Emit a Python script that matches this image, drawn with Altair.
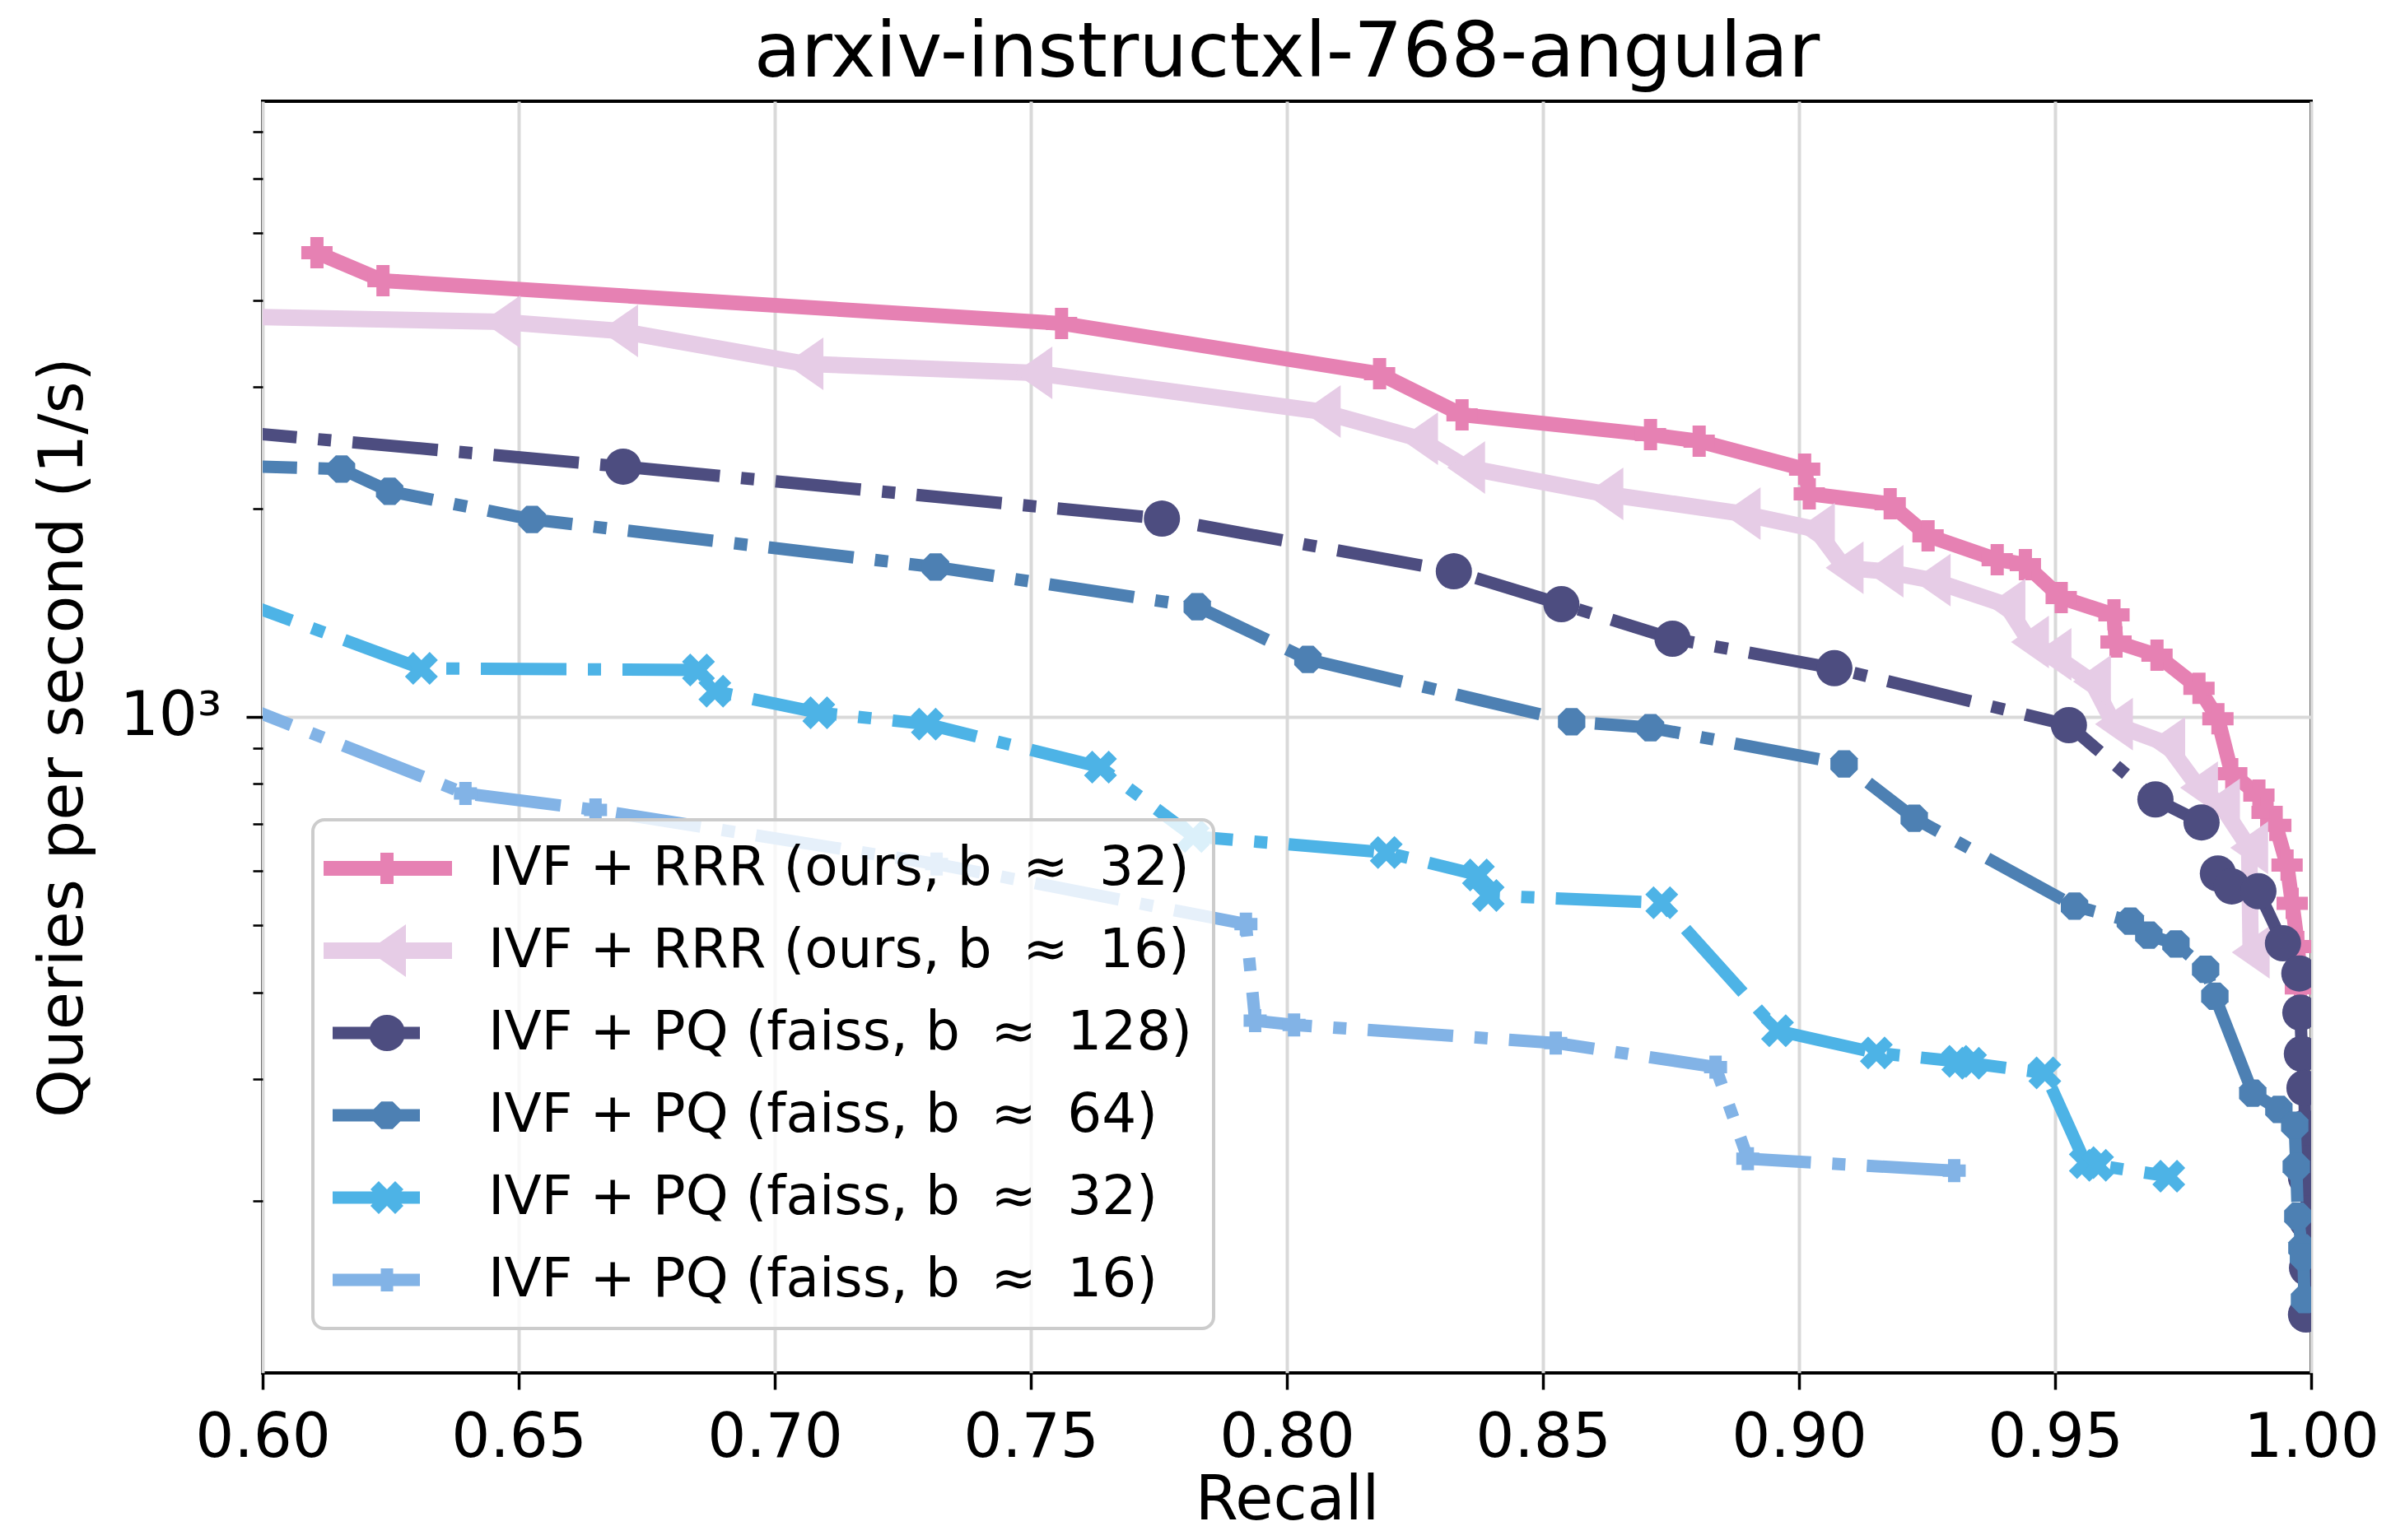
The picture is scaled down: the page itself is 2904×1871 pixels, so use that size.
import math
import altair as alt
import pandas as pd

# ---------------- data ----------------
series_names = [
    "IVF + RRR (ours, b \u2005\u2248\u2005 32)",
    "IVF + RRR (ours, b \u2005\u2248\u2005 16)",
    "IVF + PQ (faiss, b \u2005\u2248\u2005 128)",
    "IVF + PQ (faiss, b \u2005\u2248\u2005 64)",
    "IVF + PQ (faiss, b \u2005\u2248\u2005 32)",
    "IVF + PQ (faiss, b \u2005\u2248\u2005 16)",
]

rrr32_recall = [0.6106, 0.6235, 0.7560, 0.8181, 0.8342, 0.8710, 0.8805, 0.9011, 0.9020,
                0.9178, 0.9252, 0.9387, 0.9442, 0.9512, 0.9615, 0.9619, 0.9699, 0.9781,
                0.9818, 0.9845, 0.9898, 0.9914, 0.9931, 0.9953, 0.9963, 0.9974, 0.9979]
rrr32_qps = [4684, 4268, 3702, 3132, 2732, 2557, 2502, 2280, 2100,
             2032, 1826, 1687, 1660, 1487, 1404, 1283, 1228, 1100,
             994, 828, 771, 728, 697, 611, 538, 466, 406]

rrr16_recall = [0.5900, 0.6466, 0.6696, 0.7058, 0.7505, 0.8068, 0.8258, 0.8350, 0.8620,
                0.8888, 0.9033, 0.9089, 0.9167, 0.9259, 0.9405, 0.9451, 0.9495, 0.9572,
                0.9615, 0.9717, 0.9781, 0.9824, 0.9879, 0.9882]
rrr16_qps = [3793, 3721, 3612, 3237, 3141, 2761, 2523, 2293, 2100,
             1967, 1867, 1642, 1623, 1576, 1451, 1283, 1231, 1125,
             976, 916, 790, 746, 647, 457]

pq128_recall = [0.5900, 0.6704, 0.7756, 0.8326, 0.8536, 0.8753, 0.9069, 0.9527, 0.9696,
                0.9786, 0.9818, 0.9845, 0.9897, 0.9945, 0.9977, 0.9979, 0.9982, 0.9987,
                0.9988, 0.9990, 0.9992, 0.9992, 0.9990]
pq128_qps = [2600, 2299, 1934, 1623, 1455, 1297, 1176, 973, 760,
             704, 594, 569, 560, 471, 426, 374, 326, 291,
             255, 216, 187, 160, 137]

pq64_recall = [0.5900, 0.6154, 0.6248, 0.6526, 0.7314, 0.7825, 0.8041, 0.8556, 0.8710,
               0.9088, 0.9225, 0.9538, 0.9647, 0.9683, 0.9736, 0.9794, 0.9812, 0.9886,
               0.9937, 0.9968, 0.9971, 0.9974, 0.9982, 0.9985, 0.9987]
pq64_qps = [2312, 2280, 2118, 1929, 1646, 1443, 1211, 984, 965,
            855, 714, 533, 507, 484, 470, 432, 395, 286,
            271, 257, 224, 190, 171, 166, 144]

pq32_recall = [0.5900, 0.6310, 0.6851, 0.6883, 0.7086, 0.7298, 0.7636, 0.7817, 0.8194,
               0.8374, 0.8393, 0.8732, 0.8958, 0.9151, 0.9310, 0.9335, 0.9480, 0.9559,
               0.9583, 0.9722]
pq32_qps = [1520, 1175, 1169, 1089, 1014, 976, 846, 672, 637,
            591, 552, 539, 352, 327, 318, 316, 306, 227,
            225, 217]

pq16_recall = [0.5900, 0.6396, 0.6650, 0.7316, 0.7920, 0.7938, 0.8014, 0.8525, 0.8837,
               0.8900, 0.9303]
pq16_qps = [1080, 775, 734, 613, 502, 364, 359, 338, 312, 230, 221]

x_ticks = [0.60, 0.65, 0.70, 0.75, 0.80, 0.85, 0.90, 0.95, 1.00]
y_ticks = [200, 300, 400, 500, 600, 700, 800, 900, 1000,
           2000, 3000, 4000, 5000, 6000, 7000]

all_recall = [rrr32_recall, rrr16_recall, pq128_recall, pq64_recall, pq32_recall, pq16_recall]
all_qps = [rrr32_qps, rrr16_qps, pq128_qps, pq64_qps, pq32_qps, pq16_qps]

rows = []
for name, rs, qs in zip(series_names, all_recall, all_qps):
    for j, (r, q) in enumerate(zip(rs, qs)):
        rows.append({"series": name, "recall": r, "qps": q, "order": j})
df = pd.DataFrame(rows)

# ---------------- styles ----------------
FONT = "DejaVu Sans"
colors = ["#e681b3", "#e6cce6", "#4d4d80", "#4d80b3", "#4db3e6", "#82b3e6"]
DASHDOT = [104, 26, 16, 26]
widths = [18, 20, 15, 15, 15, 15]
dashes = [None, None, DASHDOT, DASHDOT, DASHDOT, DASHDOT]


def orient(pts):
    a = 0.0
    for i in range(len(pts)):
        x1, y1 = pts[i]
        x2, y2 = pts[(i + 1) % len(pts)]
        a += x1 * y2 - x2 * y1
    return pts if a > 0 else pts[::-1]


def plus_pts(a, b):
    return [(-b, -a), (b, -a), (b, -b), (a, -b), (a, b), (b, b), (b, a), (-b, a),
            (-b, b), (-a, b), (-a, -b), (-b, -b)]


def tri_left_pts(w, h):
    return [(-w, 0), (w, -h), (w, h)]


def circle_pts(r, n=36):
    return [(r * math.cos(2 * math.pi * k / n), r * math.sin(2 * math.pi * k / n)) for k in range(n)]


def octagon_pts(r):
    return [(r * math.cos(math.radians(22.5 + 45 * k)), r * math.sin(math.radians(22.5 + 45 * k)))
            for k in range(8)]


def x_pts(ext):
    base = [(-1, -2), (0, -1), (1, -2), (2, -1), (1, 0), (2, 1), (1, 2), (0, 1),
            (-1, 2), (-2, 1), (-1, 0), (-2, -1)]
    return [(x * ext / 4.0, y * ext / 4.0) for x, y in base]


def rect_pts(x0, x1, h):
    return [(x0, -h), (x1, -h), (x1, h), (x0, h)]


def to_path(polys, unit, dx=0.0):
    out = []
    for pts in polys:
        pts = orient(pts)
        seg = "M" + " L".join(f"{(x + dx) / unit:.4f},{y / unit:.4f}" for x, y in pts) + " Z"
        out.append(seg)
    return " ".join(out)


marker_polys = [
    plus_pts(19, 8),
    tri_left_pts(23, 32),
    circle_pts(22),
    octagon_pts(18),
    x_pts(40),
    plus_pts(14, 7.5),
]

PLOT_UNIT = 50.0           # size 10000 -> sqrt/2 = 50 px per unit
PLOT_SIZE = (2 * PLOT_UNIT) ** 2
plot_paths = [to_path([p], PLOT_UNIT) for p in marker_polys]

LEG_UNIT = 33.0            # size 4356 -> 33 px per unit
LEG_SIZE = (2 * LEG_UNIT) ** 2
LEG_DX = 31.0              # marker centre offset from symbol centre
leg_lines = [
    rect_pts(-77, 79, 9),
    rect_pts(-77, 79, 10),
    rect_pts(-66, 40, 7.5),
    rect_pts(-66, 40, 7.5),
    rect_pts(-66, 40, 7.5),
    rect_pts(-66, 40, 7.5),
]
legend_paths = [to_path([ln, mk], LEG_UNIT, LEG_DX) for ln, mk in zip(leg_lines, marker_polys)]

# ---------------- encodings ----------------
is_major = "datum.value == 1000"
x_enc = alt.X(
    "recall:Q",
    scale=alt.Scale(domain=[0.6, 1.0], nice=False, zero=False),
    axis=alt.Axis(
        values=x_ticks, format=".2f", title="Recall",
        labelFont=FONT, labelFontSize=74, labelColor="black", labelPadding=23,
        tickSize=20, tickWidth=3.5, tickColor="black", domain=False,
        grid=True, gridColor="#d9d9d9", gridWidth=4,
        titleFont=FONT, titleFontSize=75, titleFontWeight="normal", titleColor="black",
        titleBaseline="alphabetic", titleY=177, labelFlush=False,
    ),
)
y_enc = alt.Y(
    "qps:Q",
    scale=alt.Scale(type="log", domain=[112.8, 7752], nice=False),
    axis=alt.Axis(
        values=y_ticks, labelExpr=f"{is_major} ? '10\u00b3' : ''",
        title="Queries per second (1/s)",
        labelFont=FONT, labelFontSize=74, labelColor="black", labelPadding=30,
        tickSize={"condition": {"test": is_major, "value": 20}, "value": 12},
        tickWidth={"condition": {"test": is_major, "value": 3.5}, "value": 2.6},
        tickColor="black", domain=False,
        grid=True, gridColor="#d9d9d9", gridWidth=4,
        gridOpacity={"condition": {"test": is_major, "value": 1}, "value": 0},
        titleFont=FONT, titleFontSize=75, titleFontWeight="normal", titleColor="black",
        titlePadding=30, labelFlush=False,
    ),
)

base = alt.Chart(df)
layers = []
for i, name in enumerate(series_names):
    line_kw = dict(color=colors[i], strokeWidth=widths[i], strokeJoin="round",
                   strokeCap="butt", clip=True)
    if dashes[i] is not None:
        line_kw["strokeDash"] = dashes[i]
    sub = base.transform_filter(alt.datum.series == name)
    layers.append(sub.mark_line(**line_kw).encode(x=x_enc, y=y_enc, order="order:Q"))
    layers.append(
        sub.mark_point(shape=plot_paths[i], size=PLOT_SIZE, filled=True, fill=colors[i],
                       strokeWidth=0, opacity=1, clip=True)
        .encode(x=x_enc, y=y_enc)
    )

legend_spec = alt.Legend(
    title=None, orient="none", legendX=61, legendY=873,
    padding=26, rowPadding=34, labelOffset=121,
    labelFont=FONT, labelFontSize=66, labelColor="black", labelLimit=3000,
    symbolSize=LEG_SIZE, symbolStrokeWidth=0, symbolOpacity=1,
    fillColor="rgba(255,255,255,0.8)", strokeColor="#cccccc", cornerRadius=14,
)
legend_layer = (
    base.transform_filter("false")
    .mark_point(filled=True, opacity=1, size=LEG_SIZE, strokeWidth=0)
    .encode(
        x=x_enc, y=y_enc,
        shape=alt.Shape("series:N", scale=alt.Scale(domain=series_names, range=legend_paths),
                        legend=legend_spec),
        color=alt.Color("series:N", scale=alt.Scale(domain=series_names, range=colors),
                        legend=legend_spec),
    )
)
layers.append(legend_layer)

chart = (
    alt.layer(*layers)
    .properties(
        width=2488, height=1545,
        autosize=alt.AutoSizeParams(type="none"),
        padding={"left": 311, "top": 115, "right": 86, "bottom": 195},
        title=alt.TitleParams("arxiv-instructxl-768-angular", font=FONT, fontSize=93,
                              fontWeight="normal", color="black", anchor="middle", offset=10),
        background="white",
    )
    .configure_view(stroke="black", strokeWidth=4)
    .configure_legend(strokeWidth=4)
)

chart.save("out.html", embed_options={"renderer": "svg", "actions": False})
